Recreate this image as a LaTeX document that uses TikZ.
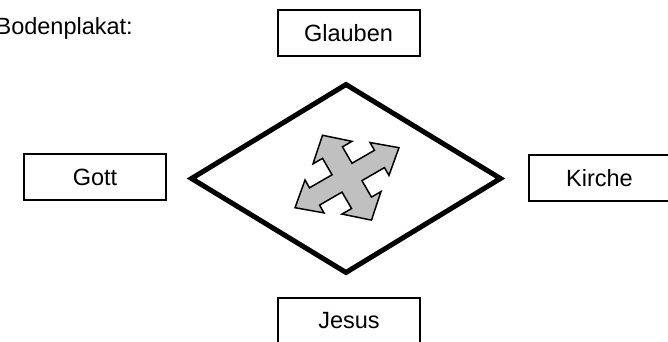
\documentclass[tikz,border=0pt]{standalone}
\usepackage{fontspec}
\setmainfont{Liberation Sans}
\definecolor{PlakatGray}{RGB}{192, 192, 192}
\usetikzlibrary{positioning, shapes.geometric}

\begin{document}
\begin{tikzpicture}[
            x=1pt, y=1pt,
            box/.style={rectangle, draw=black, line width=2pt, fill=white,
                        minimum width=142pt, minimum height=46pt, inner sep=0pt,
                        align=center, font=\fontsize{23.5}{28}\selectfont},
            raute/.style={diamond, draw=black, line width=5pt, miter limit=10,
                        minimum width=311pt, minimum height=190pt, inner sep=0pt},
            kreuz/.style={draw=black, line width=1.5pt, fill=PlakatGray, line join=miter}
        ]
            \useasboundingbox (-346,-163.5) rectangle (322,178.5);

            % Titel oben links
            \node[anchor=base east, inner sep=0pt, font=\fontsize{23.5}{28}\selectfont] (titel) at (-213,143.5) {Bodenplakat:};

            % Raute in der Mitte
            \node[raute] (mitte) at (0,0) {};

            % die vier Begriffe
            \node[box] (glauben) at (2.5,145.5) {Glauben};
            \node[box] (gott) at (-251,1) {Gott};
            \node[box] (kirche) at (253.5,0.5) {Kirche};
            \node[box] (jesus) at (3,-142.5) {Jesus};

            % Pfeilkreuz
            \draw[kreuz, shift={(1,0.8)}, rotate=30]
                (60,0) -- (37.5,19) -- (37.5,10) -- (11.5,10) -- (11.5,29) -- (22.5,29)
                -- (0,49) -- (-22.5,29) -- (-11.5,29) -- (-11.5,10) -- (-37.5,10) -- (-37.5,19)
                -- (-60,0) -- (-37.5,-19) -- (-37.5,-10) -- (-11.5,-10) -- (-11.5,-29) -- (-22.5,-29)
                -- (0,-49) -- (22.5,-29) -- (11.5,-29) -- (11.5,-10) -- (37.5,-10) -- (37.5,-19) -- cycle;
        \end{tikzpicture}
\end{document}
